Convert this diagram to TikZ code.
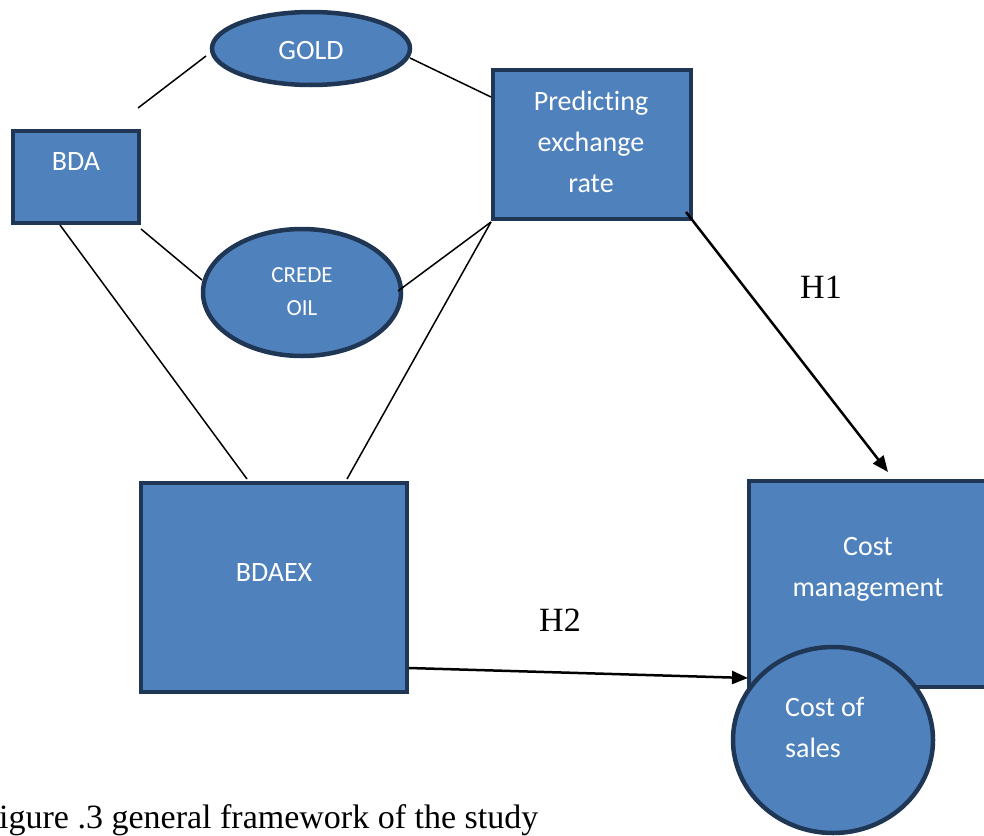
\documentclass[tikz,border=0pt]{standalone}
\usepackage{fontspec}
\setmainfont{Liberation Serif}
\newfontfamily\boxfont[Ligatures={NoCommon}]{Carlito}
\usetikzlibrary{shapes.geometric,arrows.meta}
\definecolor{boxfill}{HTML}{4F81BD}
\definecolor{boxline}{HTML}{1F3654}
\tikzset{
  shapebase/.style={fill=boxfill,draw=boxline,line width=4.5pt,inner sep=0pt,outer sep=0pt},
  rectbox/.style={shapebase,rectangle},
  ovalbox/.style={shapebase,ellipse},
  boxtext/.style={text=white,font=\boxfont\fontsize{28}{41}\selectfont,inner sep=0pt,align=center},
  smalltext/.style={text=white,font=\boxfont\fontsize{23}{33}\selectfont,inner sep=0pt,align=center},
  link/.style={line width=1.5pt,black},
  hyp/.style={line width=2.5pt,black,-{Triangle[length=16pt,width=13pt]}},
  hyplabel/.style={font=\fontsize{34}{40}\selectfont,inner sep=0pt},
}
\begin{document}
\begin{tikzpicture}[x=1pt,y=-1pt]
\useasboundingbox (0,0) rectangle (984,835);
\fill[white] (0,0) rectangle (984,835);

% shapes
\node[ovalbox,minimum width=198pt,minimum height=73pt] (gold) at (311,48.5) {};
\node[rectbox,minimum width=126pt,minimum height=92pt] (bda) at (76,177) {};
\node[ovalbox,minimum width=198pt,minimum height=127pt] (oil) at (302,292.5) {};
\node[rectbox,minimum width=198pt,minimum height=149pt] (pred) at (592,144.5) {};
\node[rectbox,minimum width=266pt,minimum height=209pt] (bdaex) at (274,587.5) {};
\node[rectbox,minimum width=251pt,minimum height=206pt] (cost) at (874.5,584) {};

% texts
\node[boxtext] (goldT) at (311,51) {GOLD};
\node[boxtext] (bdaT) at (76,162) {BDA};
\node[smalltext] (oilT) at (302,291.5) {CREDE\\OIL};
\node[boxtext] (predT) at (591,142) {Predicting\\exchange\\rate};
\node[boxtext] (bdaexT) at (274,573) {BDAEX};
\node[boxtext] (costT) at (868,569) {Cost\\management};

% connector end points
\coordinate (g1) at (138,108);
\coordinate (g2) at (206,56);
\coordinate (g3) at (410,58);
\coordinate (p1) at (491,97);
\coordinate (o1) at (141,229);
\coordinate (o2) at (202,280);
\coordinate (o3) at (398,291);
\coordinate (p2) at (491,222);
\coordinate (b1) at (60,225);
\coordinate (x1) at (247,479);
\coordinate (x2) at (347,479);
\coordinate (h1s) at (686,212);
\coordinate (h1e) at (888,472);
\coordinate (h2s) at (409,668);
\coordinate (h2e) at (748,678);

% plain links
\draw[link] (g1) -- (g2);
\draw[link] (g3) -- (p1);
\draw[link] (o1) -- (o2);
\draw[link] (o3) -- (p2);
\draw[link] (b1) -- (x1);
\draw[link] (p2) -- (x2);

% hypotheses
\draw[hyp] (h1s) -- (h1e);
\draw[hyp] (h2s) -- (h2e);
\node[hyplabel] (h1) at (821,287) {H1};
\node[hyplabel] (h2) at (560,620) {H2};

% cost of sales
\node[ovalbox,minimum width=200pt,minimum height=186pt] (sales) at (833,740) {};
\node[boxtext,align=left,anchor=west] (salesT) at (785,727) {Cost of\\sales};

% caption
\node[anchor=base west,inner sep=0pt,font=\fontsize{34}{40}\selectfont] (cap) at (-1,828) {igure .3 general framework of the study};
\end{tikzpicture}
\end{document}
